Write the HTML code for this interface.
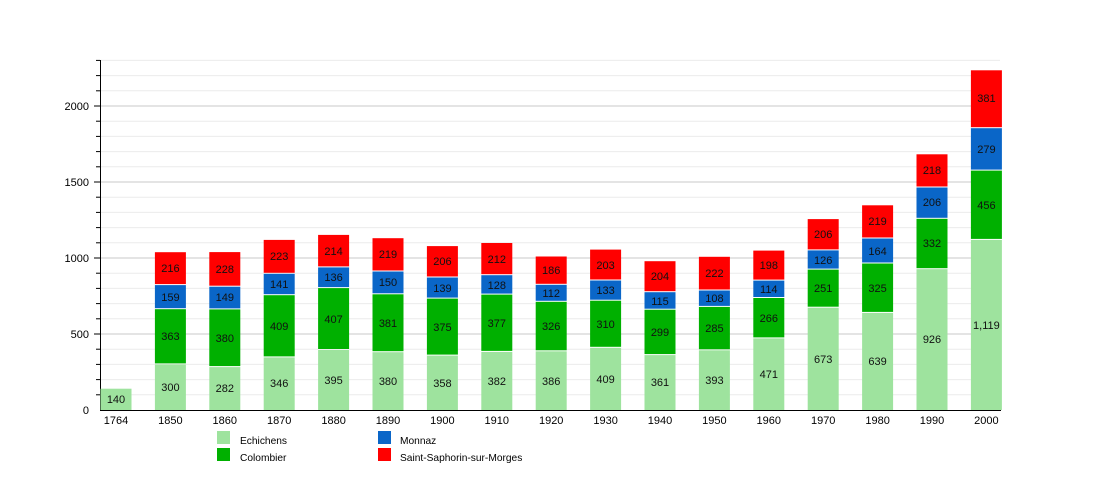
<!DOCTYPE html>
<html><head><meta charset="utf-8"><style>
html,body{margin:0;padding:0;background:#fff;}
svg{display:block;font-family:"Liberation Sans",sans-serif;}
</style></head><body>
<svg width="1100" height="500" viewBox="0 0 1100 500">
<g stroke="#ececec" stroke-width="1">
<line x1="100" x2="1000" y1="394.8" y2="394.8"/><line x1="100" x2="1000" y1="379.6" y2="379.6"/><line x1="100" x2="1000" y1="364.4" y2="364.4"/><line x1="100" x2="1000" y1="349.2" y2="349.2"/>
<line x1="100" x2="1000" y1="318.8" y2="318.8"/><line x1="100" x2="1000" y1="303.6" y2="303.6"/><line x1="100" x2="1000" y1="288.4" y2="288.4"/><line x1="100" x2="1000" y1="273.2" y2="273.2"/>
<line x1="100" x2="1000" y1="242.8" y2="242.8"/><line x1="100" x2="1000" y1="227.6" y2="227.6"/><line x1="100" x2="1000" y1="212.4" y2="212.4"/><line x1="100" x2="1000" y1="197.2" y2="197.2"/>
<line x1="100" x2="1000" y1="166.8" y2="166.8"/><line x1="100" x2="1000" y1="151.6" y2="151.6"/><line x1="100" x2="1000" y1="136.4" y2="136.4"/><line x1="100" x2="1000" y1="121.2" y2="121.2"/>
<line x1="100" x2="1000" y1="90.8" y2="90.8"/><line x1="100" x2="1000" y1="75.6" y2="75.6"/><line x1="100" x2="1000" y1="60.4" y2="60.4"/>
</g>
<g stroke="#c8c8c8" stroke-width="1">
<line x1="100" x2="1000" y1="334" y2="334"/><line x1="100" x2="1000" y1="258" y2="258"/><line x1="100" x2="1000" y1="182" y2="182"/><line x1="100" x2="1000" y1="106" y2="106"/>
</g>
<g stroke="#000" stroke-width="1">
<line x1="96" x2="100" y1="394.8" y2="394.8"/><line x1="96" x2="100" y1="379.6" y2="379.6"/><line x1="96" x2="100" y1="364.4" y2="364.4"/><line x1="96" x2="100" y1="349.2" y2="349.2"/>
<line x1="94" x2="100" y1="334" y2="334"/><line x1="96" x2="100" y1="318.8" y2="318.8"/><line x1="96" x2="100" y1="303.6" y2="303.6"/><line x1="96" x2="100" y1="288.4" y2="288.4"/><line x1="96" x2="100" y1="273.2" y2="273.2"/>
<line x1="94" x2="100" y1="258" y2="258"/><line x1="96" x2="100" y1="242.8" y2="242.8"/><line x1="96" x2="100" y1="227.6" y2="227.6"/><line x1="96" x2="100" y1="212.4" y2="212.4"/><line x1="96" x2="100" y1="197.2" y2="197.2"/>
<line x1="94" x2="100" y1="182" y2="182"/><line x1="96" x2="100" y1="166.8" y2="166.8"/><line x1="96" x2="100" y1="151.6" y2="151.6"/><line x1="96" x2="100" y1="136.4" y2="136.4"/><line x1="96" x2="100" y1="121.2" y2="121.2"/>
<line x1="94" x2="100" y1="106" y2="106"/><line x1="96" x2="100" y1="90.8" y2="90.8"/><line x1="96" x2="100" y1="75.6" y2="75.6"/><line x1="96" x2="100" y1="60.4" y2="60.4"/>
<line x1="100.5" x2="100.5" y1="60" y2="410"/>
</g>
<g font-size="11" fill="#000" text-anchor="end">
<text x="89" y="414">0</text><text x="89" y="338">500</text><text x="89" y="262">1000</text><text x="89" y="186">1500</text><text x="89" y="110">2000</text>
</g>
<g id="bars">
<rect x="100.5" y="388.7" width="31" height="21.3" fill="#9ee39e"/>
<rect x="154.9" y="364.4" width="31" height="45.6" fill="#9ee39e"/><rect x="154.9" y="309.2" width="31" height="54.2" fill="#00b000"/><rect x="154.9" y="285.1" width="31" height="23.1" fill="#0a66c8"/><rect x="154.9" y="252.2" width="31" height="31.9" fill="#ff0000"/>
<rect x="209.3" y="367.1" width="31" height="42.9" fill="#9ee39e"/><rect x="209.3" y="309.4" width="31" height="56.7" fill="#00b000"/><rect x="209.3" y="286.7" width="31" height="21.7" fill="#0a66c8"/><rect x="209.3" y="252.1" width="31" height="33.6" fill="#ff0000"/>
<rect x="263.7" y="357.4" width="31" height="52.6" fill="#9ee39e"/><rect x="263.7" y="295.2" width="31" height="61.2" fill="#00b000"/><rect x="263.7" y="273.8" width="31" height="20.4" fill="#0a66c8"/><rect x="263.7" y="239.9" width="31" height="32.9" fill="#ff0000"/>
<rect x="318.1" y="350.0" width="31" height="60.0" fill="#9ee39e"/><rect x="318.1" y="288.1" width="31" height="60.9" fill="#00b000"/><rect x="318.1" y="267.4" width="31" height="19.7" fill="#0a66c8"/><rect x="318.1" y="234.9" width="31" height="31.5" fill="#ff0000"/>
<rect x="372.5" y="352.2" width="31" height="57.8" fill="#9ee39e"/><rect x="372.5" y="294.3" width="31" height="56.9" fill="#00b000"/><rect x="372.5" y="271.5" width="31" height="21.8" fill="#0a66c8"/><rect x="372.5" y="238.2" width="31" height="32.3" fill="#ff0000"/>
<rect x="426.9" y="355.6" width="31" height="54.4" fill="#9ee39e"/><rect x="426.9" y="298.6" width="31" height="56.0" fill="#00b000"/><rect x="426.9" y="277.5" width="31" height="20.1" fill="#0a66c8"/><rect x="426.9" y="246.1" width="31" height="30.4" fill="#ff0000"/>
<rect x="481.3" y="351.9" width="31" height="58.1" fill="#9ee39e"/><rect x="481.3" y="294.6" width="31" height="56.3" fill="#00b000"/><rect x="481.3" y="275.2" width="31" height="18.4" fill="#0a66c8"/><rect x="481.3" y="243.0" width="31" height="31.2" fill="#ff0000"/>
<rect x="535.7" y="351.3" width="31" height="58.7" fill="#9ee39e"/><rect x="535.7" y="301.8" width="31" height="48.5" fill="#00b000"/><rect x="535.7" y="284.8" width="31" height="16.0" fill="#0a66c8"/><rect x="535.7" y="256.5" width="31" height="27.3" fill="#ff0000"/>
<rect x="590.1" y="347.8" width="31" height="62.2" fill="#9ee39e"/><rect x="590.1" y="300.7" width="31" height="46.1" fill="#00b000"/><rect x="590.1" y="280.5" width="31" height="19.2" fill="#0a66c8"/><rect x="590.1" y="249.6" width="31" height="29.9" fill="#ff0000"/>
<rect x="644.5" y="355.1" width="31" height="54.9" fill="#9ee39e"/><rect x="644.5" y="309.7" width="31" height="44.4" fill="#00b000"/><rect x="644.5" y="292.2" width="31" height="16.5" fill="#0a66c8"/><rect x="644.5" y="261.2" width="31" height="30.0" fill="#ff0000"/>
<rect x="698.9" y="350.3" width="31" height="59.7" fill="#9ee39e"/><rect x="698.9" y="306.9" width="31" height="42.4" fill="#00b000"/><rect x="698.9" y="290.5" width="31" height="15.4" fill="#0a66c8"/><rect x="698.9" y="256.8" width="31" height="32.7" fill="#ff0000"/>
<rect x="753.3" y="338.4" width="31" height="71.6" fill="#9ee39e"/><rect x="753.3" y="298.0" width="31" height="39.4" fill="#00b000"/><rect x="753.3" y="280.6" width="31" height="16.4" fill="#0a66c8"/><rect x="753.3" y="250.6" width="31" height="29.0" fill="#ff0000"/>
<rect x="807.7" y="307.7" width="31" height="102.3" fill="#9ee39e"/><rect x="807.7" y="269.6" width="31" height="37.1" fill="#00b000"/><rect x="807.7" y="250.4" width="31" height="18.2" fill="#0a66c8"/><rect x="807.7" y="219.1" width="31" height="30.3" fill="#ff0000"/>
<rect x="862.1" y="312.9" width="31" height="97.1" fill="#9ee39e"/><rect x="862.1" y="263.5" width="31" height="48.4" fill="#00b000"/><rect x="862.1" y="238.5" width="31" height="24.0" fill="#0a66c8"/><rect x="862.1" y="205.3" width="31" height="32.2" fill="#ff0000"/>
<rect x="916.5" y="269.2" width="31" height="140.8" fill="#9ee39e"/><rect x="916.5" y="218.8" width="31" height="49.4" fill="#00b000"/><rect x="916.5" y="187.5" width="31" height="30.3" fill="#0a66c8"/><rect x="916.5" y="154.3" width="31" height="32.2" fill="#ff0000"/>
<rect x="970.9" y="239.9" width="31" height="170.1" fill="#9ee39e"/><rect x="970.9" y="170.6" width="31" height="68.3" fill="#00b000"/><rect x="970.9" y="128.2" width="31" height="41.4" fill="#0a66c8"/><rect x="970.9" y="70.3" width="31" height="56.9" fill="#ff0000"/>
</g>
<line x1="100" x2="1001" y1="410.5" y2="410.5" stroke="#000" stroke-width="1"/>
<g font-size="11" fill="#111" text-anchor="middle">
<text x="116" y="403">140</text>
<text x="170.4" y="391">300</text><text x="170.4" y="340">363</text><text x="170.4" y="301">159</text><text x="170.4" y="272">216</text>
<text x="224.8" y="392">282</text><text x="224.8" y="342">380</text><text x="224.8" y="301">149</text><text x="224.8" y="273">228</text>
<text x="279.2" y="387">346</text><text x="279.2" y="330">409</text><text x="279.2" y="288">141</text><text x="279.2" y="260">223</text>
<text x="333.6" y="384">395</text><text x="333.6" y="323">407</text><text x="333.6" y="281">136</text><text x="333.6" y="255">214</text>
<text x="388" y="385">380</text><text x="388" y="327">381</text><text x="388" y="286">150</text><text x="388" y="258">219</text>
<text x="442.4" y="387">358</text><text x="442.4" y="331">375</text><text x="442.4" y="292">139</text><text x="442.4" y="265">206</text>
<text x="496.8" y="385">382</text><text x="496.8" y="327">377</text><text x="496.8" y="289">128</text><text x="496.8" y="263">212</text>
<text x="551.2" y="385">386</text><text x="551.2" y="330">326</text><text x="551.2" y="297">112</text><text x="551.2" y="274">186</text>
<text x="605.6" y="383">409</text><text x="605.6" y="328">310</text><text x="605.6" y="294">133</text><text x="605.6" y="269">203</text>
<text x="660" y="386">361</text><text x="660" y="336">299</text><text x="660" y="305">115</text><text x="660" y="280">204</text>
<text x="714.4" y="384">393</text><text x="714.4" y="332">285</text><text x="714.4" y="302">108</text><text x="714.4" y="277">222</text>
<text x="768.8" y="378">471</text><text x="768.8" y="322">266</text><text x="768.8" y="293">114</text><text x="768.8" y="269">198</text>
<text x="823.2" y="363">673</text><text x="823.2" y="292">251</text><text x="823.2" y="264">126</text><text x="823.2" y="238">206</text>
<text x="877.6" y="365">639</text><text x="877.6" y="292">325</text><text x="877.6" y="255">164</text><text x="877.6" y="225">219</text>
<text x="932" y="343">926</text><text x="932" y="247">332</text><text x="932" y="206">206</text><text x="932" y="174">218</text>
<text x="986.4" y="329">1,119</text><text x="986.4" y="209">456</text><text x="986.4" y="153">279</text><text x="986.4" y="102">381</text>
</g>
<g font-size="11" fill="#000" text-anchor="middle">
<text x="116" y="424">1764</text><text x="170.4" y="424">1850</text><text x="224.8" y="424">1860</text><text x="279.2" y="424">1870</text><text x="333.6" y="424">1880</text><text x="388" y="424">1890</text><text x="442.4" y="424">1900</text><text x="496.8" y="424">1910</text><text x="551.2" y="424">1920</text><text x="605.6" y="424">1930</text><text x="660" y="424">1940</text><text x="714.4" y="424">1950</text><text x="768.8" y="424">1960</text><text x="823.2" y="424">1970</text><text x="877.6" y="424">1980</text><text x="932" y="424">1990</text><text x="986.4" y="424">2000</text>
</g>
<rect x="217" y="431" width="13" height="13" fill="#9ee39e"/>
<rect x="217" y="448" width="13" height="13" fill="#00b000"/>
<rect x="378" y="431" width="13" height="13" fill="#0a66c8"/>
<rect x="378" y="448" width="13" height="13" fill="#ff0000"/>
<g font-size="10.2" fill="#000">
<text x="240" y="444">Echichens</text>
<text x="240" y="461">Colombier</text>
<text x="400" y="444">Monnaz</text>
<text x="400" y="461">Saint-Saphorin-sur-Morges</text>
</g>
</svg>
</body></html>
